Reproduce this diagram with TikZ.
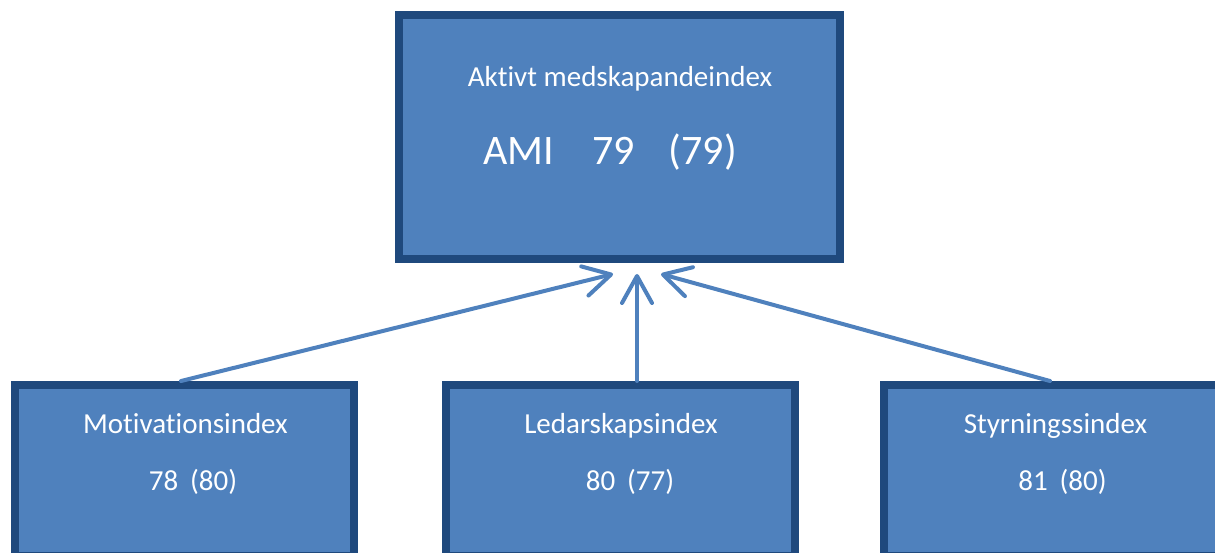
\documentclass[tikz,border=0pt]{standalone}
\usepackage{fontspec}
\setmainfont[Ligatures=NoCommon]{Carlito}
\usetikzlibrary{arrows.meta}
\definecolor{boxfill}{HTML}{4F81BD}
\definecolor{boxline}{HTML}{1F497D}
\tikzset{
  box/.style={rectangle, draw=boxline, fill=boxfill, line width=8pt, inner sep=0pt},
  lbl/.style={text=white, font=\fontsize{29}{34}\selectfont, anchor=base, inner sep=0pt},
  big/.style={text=white, font=\fontsize{42}{48}\selectfont, anchor=base, inner sep=0pt},
  arr/.style={draw=boxfill, line width=4pt, line cap=round,
    -{Straight Barb[length=27pt, width=30pt, round]}}
}
\begin{document}
\begin{tikzpicture}[x=1pt, y=-1pt]
  \useasboundingbox (0,0) rectangle (1215,553);
  \clip (0,0) rectangle (1215,553);

  % boxes
  \node[box, minimum width=441pt, minimum height=244pt] (ami) at (619.5,137) {};
  \node[box, minimum width=339pt, minimum height=171pt] (mot) at (184.5,470.5) {};
  \node[box, minimum width=349pt, minimum height=171pt] (led) at (620.5,470.5) {};
  \node[box, minimum width=349pt, minimum height=171pt] (sty) at (1058.5,470.5) {};

  % texts
  \node[lbl] (amiT) at (620,87) {Aktivt medskapandeindex};
  \node[big] (amiV) at (610,165) {AMI\hspace{38pt}79\hspace{34pt}(79)};
  \node[lbl] (motT) at (185.5,433) {Motivationsindex};
  \node[lbl] (motV) at (193,490) {78\hspace{12pt}(80)};
  \node[lbl] (ledT) at (621,433) {Ledarskapsindex};
  \node[lbl] (ledV) at (630,490) {80\hspace{12pt}(77)};
  \node[lbl] (styT) at (1055.5,433) {Styrningssindex};
  \node[lbl] (styV) at (1062.5,490) {81\hspace{12pt}(80)};

  % arrows
  \coordinate (tipL) at (613,274);
  \coordinate (tipM) at (637,274);
  \coordinate (tipR) at (661,274);
  \draw[arr] (mot.north -| 181,0) -- (tipL);
  \draw[arr] (led.north -| tipM) -- (tipM);
  \draw[arr] (sty.north -| 1050,0) -- (tipR);
\end{tikzpicture}
\end{document}
